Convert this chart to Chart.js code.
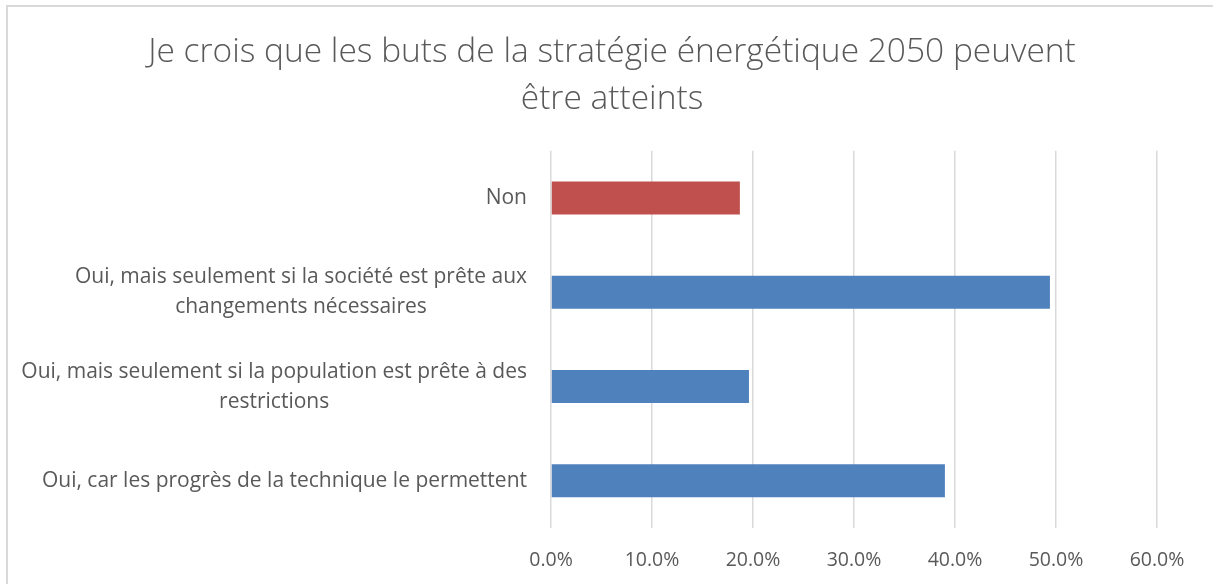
<!DOCTYPE html>
<html>
<head>
<meta charset="utf-8">
<script src="https://cdn.jsdelivr.net/npm/chart.js@4"></script>
<style>
  body { margin: 0; background: #fff; }
  #wrap { position: relative; width: 1213px; height: 584px; }
  #frame { position: absolute; left: 6px; top: 5px; right: -10px; bottom: -10px;
           border-top: 2px solid #d9d9d9; border-left: 2px solid #d9d9d9; pointer-events: none; }
</style>
</head>
<body>
<div id="wrap">
  <canvas id="canvas" width="1213" height="584"></canvas>
  <div id="frame"></div>
</div>
<script>
// chart data
const titleLines = ["Je crois que les buts de la stratégie énergétique 2050 peuvent", "être atteints"];
const categories = [
  ["Non"],
  ["Oui, mais seulement si la société est prête aux", "changements nécessaires"],
  ["Oui, mais seulement si la population est prête à des", "restrictions"],
  ["Oui, car les progrès de la technique le permettent"]
];
const values = [18.7, 49.4, 19.6, 39.0];
const barColors = ["#C0504D", "#4F81BD", "#4F81BD", "#4F81BD"];
const xMin = 0, xMax = 60, xStep = 10;

const textColor = '#595959';
const fontFamily = '"Open Sans", sans-serif';

// Excel-style category labels: each block centered on its widest line, block right-aligned
const categoryLabels = {
  id: 'categoryLabels',
  afterDraw(chart) {
    const ctx = chart.ctx;
    const yScale = chart.scales.y;
    const right = yScale.right - 24;
    const lineH = 30;
    ctx.save();
    ctx.font = '21px ' + fontFamily;
    ctx.fillStyle = textColor;
    ctx.textAlign = 'center';
    ctx.textBaseline = 'middle';
    categories.forEach((lines, i) => {
      const yc = yScale.getPixelForTick(i);
      const w = Math.max(...lines.map(l => ctx.measureText(l).width));
      const cx = right - w / 2;
      lines.forEach((l, j) => {
        ctx.fillText(l, cx, yc + (j - (lines.length - 1) / 2) * lineH);
      });
    });
    ctx.restore();
  }
};

let ctx = document.getElementById('canvas').getContext('2d');
let chart = new Chart(ctx, {
  type: 'bar',
  data: {
    labels: categories,
    datasets: [{
      data: values,
      backgroundColor: barColors,
      barPercentage: 0.35,
      categoryPercentage: 1
    }]
  },
  options: {
    indexAxis: 'y',
    responsive: false,
    animation: false,
    layout: { padding: { left: 67, right: 56, top: 0, bottom: 0 } },
    plugins: {
      legend: { display: false },
      tooltip: { enabled: false },
      title: {
        display: true,
        text: titleLines,
        color: textColor,
        font: { family: fontFamily, size: 33.5, weight: 300, lineHeight: 1.4 },
        padding: { top: 29, bottom: 28 }
      }
    },
    scales: {
      x: {
        min: xMin,
        max: xMax,
        grid: { color: '#d9d9d9', lineWidth: 1.5, drawTicks: false },
        border: { display: false },
        ticks: {
          stepSize: xStep,
          padding: 21,
          color: textColor,
          font: { family: fontFamily, size: 19.5 },
          callback: v => v.toFixed(1) + '%'
        },
        afterFit: s => { s.height = 56; }
      },
      y: {
        grid: { display: false },
        border: { display: false },
        ticks: { display: false },
        afterFit: s => { s.width = 551 - 67; }
      }
    }
  },
  plugins: [categoryLabels]
});
</script>
</body>
</html>
